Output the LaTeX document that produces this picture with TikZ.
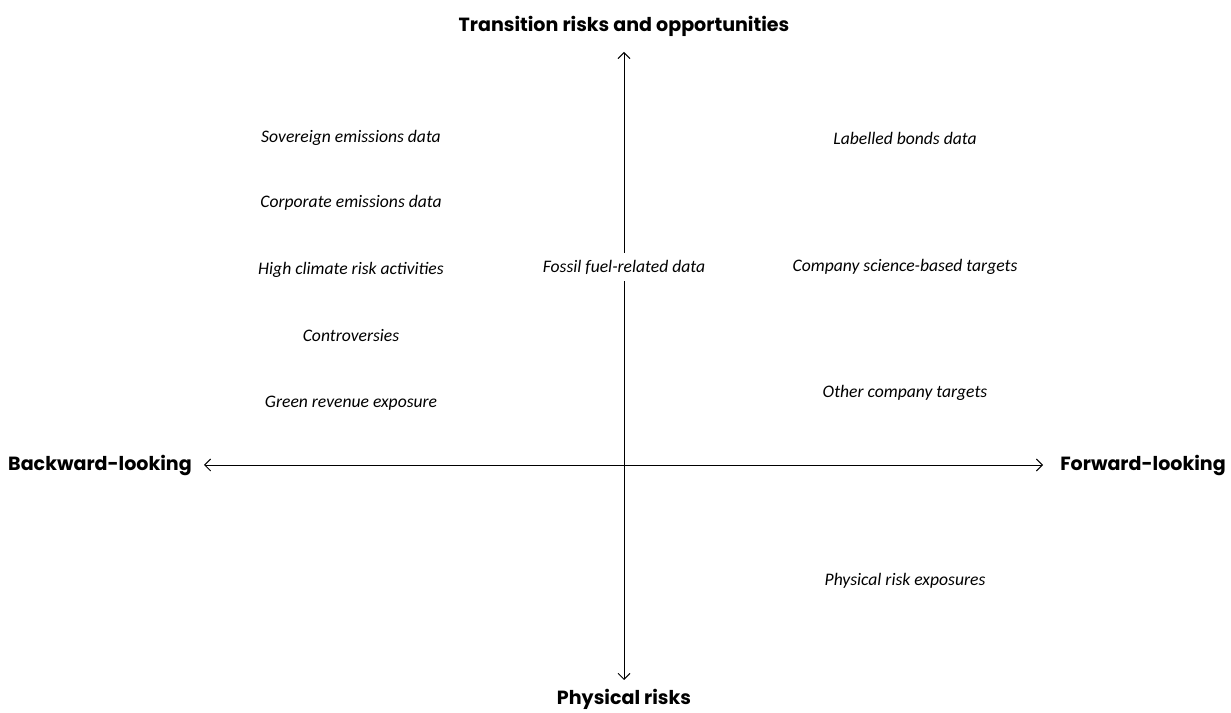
\documentclass[tikz,border=0pt]{standalone}
\usepackage{fontspec}
\setmainfont{Carlito}
\newfontfamily\headfont{Poppins}
\usetikzlibrary{positioning,arrows.meta}

\tikzset{
  item/.style={font=\fontsize{13.2}{15}\selectfont\itshape, inner sep=1pt},
  axislabel/.style={font=\fontsize{14.3}{16}\selectfont\headfont\bfseries, inner sep=1pt},
  axis/.style={line width=0.7pt, >={Straight Barb[length=4.5pt,width=9pt]}}
}

\begin{document}
\begin{tikzpicture}[x=0.75pt, y=0.75pt]
    \useasboundingbox (0,0) rectangle (1231,713);

    % Axis labels
    \node[axislabel] (trans) at (624,687) {Transition risks and opportunities};
    \node[axislabel] (phys) at (624,14) {Physical risks};
    \node[axislabel] (back) at (100,248) {Backward-looking};
    \node[axislabel] (fwd) at (1143,248) {Forward-looking};

    % Axis ends
    \coordinate (up) at (624,661);
    \coordinate (down) at (624,33);
    \coordinate (left) at (204,248);
    \coordinate (right) at (1043,248);

    % Middle of the vertical axis
    \node[item, inner ysep=5pt] (fossil) at (624,446) {Fossil fuel-related data};

    % Backward-looking data
    \foreach \id/\name/\y in {sov/Sovereign emissions data/575, corp/Corporate emissions data/510,
        high/High climate risk activities/443, contr/Controversies/377, green/Green revenue exposure/310} {
        \node[item] (\id) at (351,\y) {\name};
    }

    % Forward-looking data
    \foreach \id/\name/\y in {bonds/Labelled bonds data/575, sbt/Company science-based targets/446,
        other/Other company targets/320, prisk/Physical risk exposures/132} {
        \node[item] (\id) at (905,\y) {\name};
    }

    % Axes
    \draw[axis, ->] (fossil.north) -- (up);
    \draw[axis, ->] (fossil.south) -- (down);
    \draw[axis, <->] (left) -- (right);

\end{tikzpicture}
\end{document}
